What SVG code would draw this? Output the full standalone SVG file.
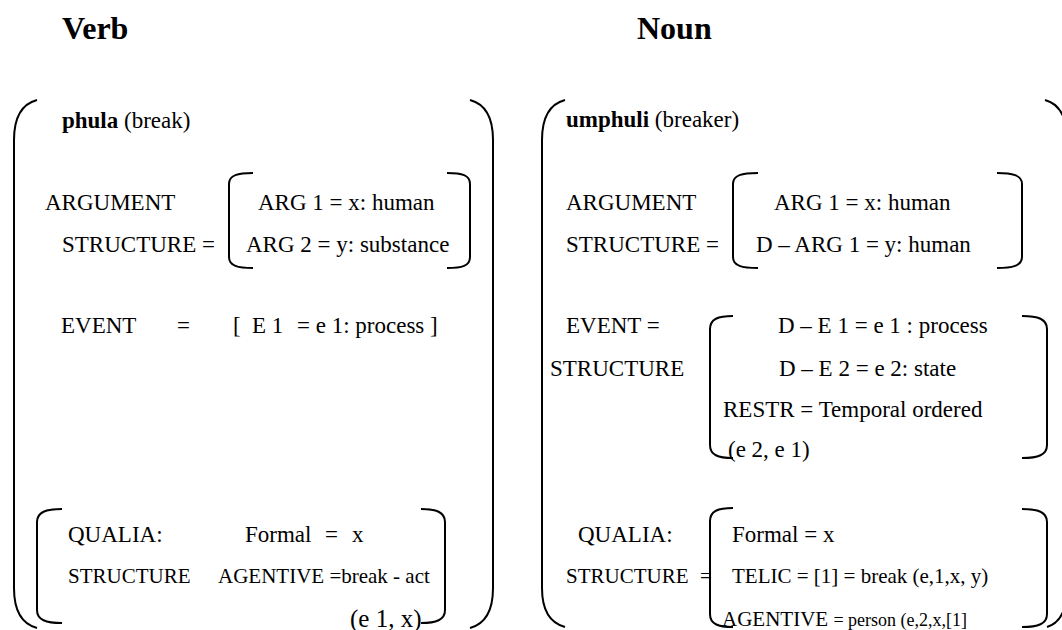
<svg xmlns="http://www.w3.org/2000/svg" width="1062" height="630" viewBox="0 0 1062 630">
<style>
text{font-family:"Liberation Serif","Times New Roman",serif;fill:#000;}
.h{font-size:32px;font-weight:bold;}
.t{font-size:23px;}
.s{font-size:21px;}
.xs{font-size:18px;}
.b{font-weight:bold;}
.br{fill:none;stroke:#000;stroke-width:2;}
</style>
<rect width="1062" height="630" fill="#fff"/>
<g id="verb">
  <text class="h" x="62" y="39">Verb</text>
  <path class="br" d="M37,100 C22,104 14,118 14,140 V588 C14,610 22,624 37,628"/>
  <path class="br" d="M470,100 C485,104 493,118 493,140 V588 C493,610 485,624 470,628"/>
  <text class="t" x="62" y="128"><tspan class="b">phula</tspan> (break)</text>
  <g id="verb-arg">
    <text class="t" x="45" y="210">ARGUMENT</text>
    <text class="t" x="62" y="252">STRUCTURE =</text>
    <path class="br" d="M253,173 C238,173 229,175 229,184 V257 C229,266 238,268 253,268"/>
    <path class="br" d="M447,173 C462,173 470,175 470,184 V257 C470,266 462,268 447,268"/>
    <text class="t" x="258" y="210">ARG 1 = x: human</text>
    <text class="t" x="246" y="252">ARG 2 = y: substance</text>
  </g>
  <g id="verb-event">
    <text class="t" x="61" y="333">EVENT</text>
    <text class="t" x="177" y="333">=</text>
    <text class="t" x="233" y="333">[</text>
    <text class="t" x="252" y="333">E 1</text>
    <text class="t" x="297" y="333">= e 1: process ]</text>
  </g>
  <g id="verb-qualia">
    <path class="br" d="M62,509 C46,509 37,512 37,522 V610 C37,620 46,623 62,623"/>
    <path class="br" d="M421,509 C436,509 445,512 445,522 V610 C445,620 436,623 421,623"/>
    <text class="t" x="68" y="542">QUALIA:</text>
    <text class="t" x="245" y="542">Formal</text>
    <text class="t" x="325" y="542">=</text>
    <text class="t" x="352" y="542">x</text>
    <text class="s" x="68" y="583">STRUCTURE</text>
    <text class="s" x="218" y="583">AGENTIVE =break - act</text>
    <text x="350" y="627" style="font-size:25px">(e 1, x)</text>
  </g>
</g>
<g id="noun">
  <text class="h" x="637" y="39">Noun</text>
  <path class="br" d="M565,100 C550,104 542,118 542,140 V588 C542,610 550,623 565,627"/>
  <path class="br" d="M1045,100 C1060,104 1067,118 1067,140 V588 C1067,610 1060,623 1047,627"/>
  <text class="t" x="566" y="127"><tspan class="b">umphuli</tspan> (breaker)</text>
  <g id="noun-arg">
    <text class="t" x="566" y="210">ARGUMENT</text>
    <text class="t" x="566" y="252">STRUCTURE =</text>
    <path class="br" d="M758,173 C742,173 733,175 733,184 V257 C733,266 742,268 758,268"/>
    <path class="br" d="M997,173 C1012,173 1022,175 1022,184 V257 C1022,266 1012,268 997,268"/>
    <text class="t" x="774" y="210">ARG 1 = x: human</text>
    <text class="t" x="756" y="252">D – ARG 1 = y: human</text>
  </g>
  <g id="noun-event">
    <text class="t" x="566" y="333">EVENT =</text>
    <text class="t" x="550" y="376">STRUCTURE</text>
    <path class="br" d="M733,316 C718,316 710,319 710,329 V445 C710,455 718,458 733,458"/>
    <path class="br" d="M1022,316 C1038,316 1047,319 1047,329 V445 C1047,455 1038,458 1022,458"/>
    <text class="t" x="778" y="333">D – E 1 = e 1 : process</text>
    <text class="t" x="779" y="376">D – E 2 = e 2: state</text>
    <text class="t" x="723" y="417">RESTR = Temporal ordered</text>
    <text class="t" x="728" y="457">(e 2, e 1)</text>
  </g>
  <g id="noun-qualia">
    <path class="br" d="M733,508 C718,508 710,511 710,521 V614 C710,624 718,627 733,627"/>
    <path class="br" d="M1022,509 C1038,509 1047,512 1047,522 V614 C1047,624 1038,627 1022,627"/>
    <text class="t" x="578" y="542">QUALIA:</text>
    <text class="s" x="566" y="583">STRUCTURE</text>
    <text class="s" x="700" y="583">=</text>
    <text class="t" x="732" y="542">Formal = x</text>
    <text class="s" x="732" y="583">TELIC = [1]  = break (e,1,x, y)</text>
    <text class="s" x="722" y="626">AGENTIVE <tspan class="xs">= person (e,2,x,[1]</tspan></text>
  </g>
</g>
</svg>
